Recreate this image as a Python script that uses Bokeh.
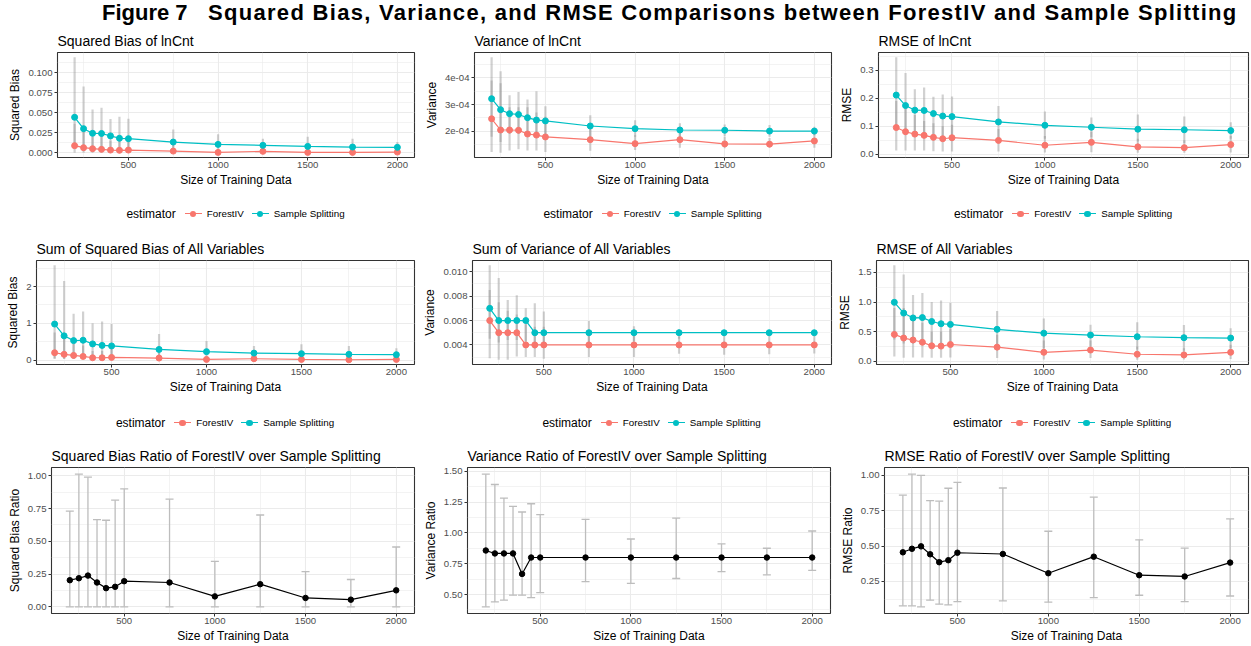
from bokeh.plotting import figure
from bokeh.models import (ColumnDataSource, Range1d, FixedTicker, Whisker, TeeHead, Div,
                          PrintfTickFormatter, CustomJSTickFormatter)
from bokeh.layouts import column, row
from bokeh.embed import file_html
from bokeh.resources import INLINE

# ---------------- data ----------------
n_train = [200, 250, 300, 350, 400, 450, 500, 750, 1000, 1250, 1500, 1750, 2000]
x_ticks = [500, 1000, 1500, 2000]
x_minor = [250, 750, 1250, 1750]
series_names = ["ForestIV", "Sample Splitting"]
legend_title = "estimator"

# Panel 1: Squared Bias of lnCnt
bias_ln_fiv = [0.0088, 0.0063, 0.0050, 0.0042, 0.0033, 0.0030, 0.0033, 0.0020, 0.0004, 0.0017, 0.0004, 0.0004, 0.0008]
bias_ln_fiv_lo = [0.0, 0.0, 0.0, 0.0, 0.0, 0.0, 0.0, 0.0, 0.0, 0.0, 0.0, 0.0, 0.0]
bias_ln_fiv_hi = [0.036, 0.030, 0.020, 0.022, 0.015, 0.016, 0.016, 0.011, 0.004, 0.009, 0.004, 0.003, 0.005]
bias_ln_ss = [0.0442, 0.0300, 0.0242, 0.0240, 0.0210, 0.0180, 0.0175, 0.0133, 0.0104, 0.0092, 0.0079, 0.0071, 0.0067]
bias_ln_ss_lo = [0.006, 0.004, 0.004, 0.004, 0.004, 0.003, 0.003, 0.003, 0.002, 0.002, 0.002, 0.002, 0.002]
bias_ln_ss_hi = [0.119, 0.0825, 0.054, 0.056, 0.042, 0.045, 0.0425, 0.029, 0.023, 0.0175, 0.020, 0.0175, 0.0133]
bias_ln_ticks = [0.0, 0.025, 0.05, 0.075, 0.1]

# Panel 2: Variance of lnCnt
var_ln_fiv = [2.47e-4, 2.05e-4, 2.05e-4, 2.04e-4, 1.90e-4, 1.86e-4, 1.79e-4, 1.69e-4, 1.54e-4, 1.69e-4, 1.53e-4, 1.52e-4, 1.64e-4]
var_ln_fiv_lo = [1.23e-4, 1.20e-4, 1.28e-4, 1.33e-4, 1.28e-4, 1.28e-4, 1.23e-4, 1.27e-4, 1.30e-4, 1.39e-4, 1.37e-4, 1.40e-4, 1.39e-4]
var_ln_fiv_hi = [3.9e-4, 3.8e-4, 2.9e-4, 2.9e-4, 2.9e-4, 2.7e-4, 2.55e-4, 2.2e-4, 1.85e-4, 2.1e-4, 1.8e-4, 1.75e-4, 1.95e-4]
var_ln_ss = [3.22e-4, 2.81e-4, 2.66e-4, 2.63e-4, 2.51e-4, 2.42e-4, 2.39e-4, 2.20e-4, 2.10e-4, 2.05e-4, 2.04e-4, 2.01e-4, 2.01e-4]
var_ln_ss_lo = [1.8e-4, 1.6e-4, 1.9e-4, 1.9e-4, 1.9e-4, 1.8e-4, 1.85e-4, 1.8e-4, 1.8e-4, 1.8e-4, 1.82e-4, 1.8e-4, 1.85e-4]
var_ln_ss_hi = [4.77e-4, 4.25e-4, 3.35e-4, 3.47e-4, 3.19e-4, 3.50e-4, 2.94e-4, 2.60e-4, 2.41e-4, 2.30e-4, 2.26e-4, 2.24e-4, 2.17e-4]
var_ln_ticks = [2e-4, 3e-4, 4e-4]

# Panel 3: RMSE of lnCnt
rmse_ln_fiv = [0.095, 0.080, 0.0715, 0.067, 0.060, 0.055, 0.0586, 0.049, 0.0317, 0.042, 0.026, 0.023, 0.034]
rmse_ln_fiv_lo = [0.013, 0.013, 0.013, 0.013, 0.010, 0.009, 0.009, 0.009, 0.006, 0.007, 0.005, 0.005, 0.006]
rmse_ln_fiv_hi = [0.19, 0.17, 0.14, 0.118, 0.11, 0.10, 0.105, 0.09, 0.065, 0.08, 0.055, 0.05, 0.065]
rmse_ln_ss = [0.211, 0.1735, 0.157, 0.156, 0.145, 0.136, 0.134, 0.115, 0.103, 0.096, 0.089, 0.087, 0.084]
rmse_ln_ss_lo = [0.09, 0.07, 0.07, 0.07, 0.07, 0.06, 0.06, 0.06, 0.055, 0.06, 0.045, 0.04, 0.055]
rmse_ln_ss_hi = [0.346, 0.290, 0.232, 0.238, 0.205, 0.213, 0.206, 0.172, 0.152, 0.131, 0.142, 0.134, 0.114]
rmse_ln_ticks = [0.0, 0.1, 0.2, 0.3]

# Panel 4: Sum of Squared Bias of All Variables
bias_all_fiv = [0.20, 0.156, 0.128, 0.10, 0.064, 0.064, 0.073, 0.055, 0.018, 0.037, 0.018, 0.009, 0.018]
bias_all_fiv_lo = [0.03, 0.03, 0.03, 0.03, 0.03, 0.03, 0.03, 0.03, 0.03, 0.03, 0.03, 0.03, 0.03]
bias_all_fiv_hi = [0.75, 0.60, 0.45, 0.40, 0.25, 0.25, 0.30, 0.20, 0.08, 0.15, 0.08, 0.05, 0.08]
bias_all_ss = [0.98, 0.66, 0.53, 0.54, 0.44, 0.40, 0.385, 0.29, 0.23, 0.19, 0.175, 0.156, 0.147]
bias_all_ss_lo = [0.05, 0.04, 0.04, 0.04, 0.04, 0.04, 0.04, 0.04, 0.04, 0.04, 0.04, 0.04, 0.04]
bias_all_ss_hi = [2.58, 2.15, 1.26, 1.32, 1.00, 1.05, 0.98, 0.71, 0.52, 0.385, 0.43, 0.385, 0.32]
bias_all_ticks = [0, 1, 2]

# Panel 5: Sum of Variance of All Variables
var_all_fiv = [0.006, 0.005, 0.005, 0.005, 0.004, 0.004, 0.004, 0.004, 0.004, 0.004, 0.004, 0.004, 0.004]
var_all_fiv_lo = [0.00291, 0.00278, 0.00278, 0.00305, 0.00300, 0.00300, 0.00286, 0.00300, 0.00300, 0.00327, 0.00319, 0.00324, 0.00330]
var_all_fiv_hi = [0.0085, 0.0075, 0.0068, 0.0065, 0.0057, 0.0055, 0.0055, 0.0050, 0.0048, 0.0047, 0.0046, 0.0046, 0.0046]
var_all_ss = [0.007, 0.006, 0.006, 0.006, 0.006, 0.005, 0.005, 0.005, 0.005, 0.005, 0.005, 0.005, 0.005]
var_all_ss_lo = [0.0045, 0.0042, 0.0044, 0.0044, 0.0043, 0.0037, 0.0038, 0.0041, 0.0043, 0.0045, 0.0046, 0.0046, 0.0046]
var_all_ss_hi = [0.01054, 0.0095, 0.00768, 0.00807, 0.00701, 0.00742, 0.00674, 0.00597, 0.00554, 0.00529, 0.00521, 0.00516, 0.00508]
var_all_ticks = [0.004, 0.006, 0.008, 0.010]

# Panel 6: RMSE of All Variables
rmse_all_fiv = [0.454, 0.393, 0.360, 0.322, 0.262, 0.257, 0.284, 0.240, 0.153, 0.191, 0.120, 0.109, 0.153]
rmse_all_fiv_lo = [0.082, 0.060, 0.066, 0.066, 0.060, 0.060, 0.066, 0.055, 0.033, 0.055, 0.027, 0.033, 0.038]
rmse_all_fiv_hi = [0.90, 0.90, 0.70, 0.65, 0.50, 0.50, 0.55, 0.45, 0.35, 0.35, 0.25, 0.22, 0.28]
rmse_all_ss = [0.995, 0.814, 0.732, 0.738, 0.672, 0.634, 0.623, 0.540, 0.475, 0.443, 0.415, 0.399, 0.393]
rmse_all_ss_lo = [0.37, 0.30, 0.30, 0.30, 0.30, 0.25, 0.25, 0.25, 0.22, 0.25, 0.20, 0.18, 0.22]
rmse_all_ss_hi = [1.62, 1.465, 1.12, 1.153, 1.00, 1.027, 0.989, 0.847, 0.721, 0.617, 0.661, 0.612, 0.557]
rmse_all_ticks = [0.0, 0.5, 1.0, 1.5]

# Panel 7: Squared Bias Ratio
bias_ratio = [0.2035, 0.2186, 0.2387, 0.186, 0.143, 0.153, 0.196, 0.186, 0.080, 0.173, 0.068, 0.055, 0.126]
bias_ratio_lo = [0.0, 0.0, 0.0, 0.0, 0.0, 0.0, 0.0, 0.0, 0.0, 0.0, 0.0, 0.0, 0.0]
bias_ratio_hi = [0.731, 1.013, 0.990, 0.666, 0.661, 0.814, 0.900, 0.822, 0.347, 0.701, 0.269, 0.209, 0.457]
bias_ratio_ticks = [0.0, 0.25, 0.5, 0.75, 1.0]

# Panel 8: Variance Ratio
var_ratio = [0.857, 0.833, 0.833, 0.833, 0.667, 0.8, 0.8, 0.8, 0.8, 0.8, 0.8, 0.8, 0.8]
var_ratio_lo = [0.400, 0.440, 0.455, 0.495, 0.495, 0.475, 0.515, 0.605, 0.590, 0.630, 0.685, 0.660, 0.695]
var_ratio_hi = [1.476, 1.392, 1.282, 1.215, 1.169, 1.236, 1.147, 1.110, 0.950, 1.120, 0.910, 0.875, 1.015]
var_ratio_ticks = [0.5, 0.75, 1.0, 1.25, 1.5]

# Panel 9: RMSE Ratio
rmse_ratio = [0.456, 0.481, 0.498, 0.442, 0.386, 0.400, 0.453, 0.444, 0.308, 0.425, 0.294, 0.285, 0.383]
rmse_ratio_lo = [0.077, 0.077, 0.070, 0.117, 0.089, 0.084, 0.107, 0.112, 0.103, 0.135, 0.152, 0.107, 0.147]
rmse_ratio_hi = [0.860, 1.009, 1.000, 0.822, 0.818, 0.909, 0.951, 0.911, 0.605, 0.846, 0.544, 0.485, 0.692]
rmse_ratio_ticks = [0.25, 0.5, 0.75, 1.0]

# ---------------- style / layout ----------------
FONT = "Liberation Sans"
RED = "#F8766D"
CYAN = "#00BFC4"
GRID = "#EBEBEB"
COLW = [417, 418, 415]
# per panel (row, col) borders
BL = [[57, 57, 43], [36, 55, 41], [51, 50, 49]]
BR = [[3, 4, 2], [3, 4, 2], [3, 5, 2]]
FIGH = [165, 165, 205]
BT = [27, 28, 27]
BB = [33, 33, 30]
LEGH = [42, 43, 0]
LEGPAD = [15, 17, 0]


def minor_of(ticks):
    step = ticks[1] - ticks[0]
    return [t - step / 2 for t in ticks] + [ticks[-1] + step / 2]


def padded(lo_list, hi_list, extra=0.0):
    lo = min(lo_list) - extra
    hi = max(hi_list) + extra
    d = (hi - lo) * 0.05
    return Range1d(lo - d, hi + d)


def base_fig(ci, ri, title, ylabel, x_range, y_range, yticks, yfmt):
    p = figure(width=COLW[ci], height=FIGH[ri], x_range=x_range, y_range=y_range,
               output_backend="svg", toolbar_location=None, title=title,
               min_border_left=BL[ri][ci], min_border_right=BR[ri][ci],
               min_border_top=BT[ri], min_border_bottom=BB[ri])
    p.title.text_font = FONT
    p.title.text_font_size = "14px"
    p.title.text_font_style = "normal"
    p.title.text_color = "#000000"
    p.title.standoff = 7
    p.outline_line_color = "#333333"
    p.outline_line_width = 1.1
    p.xaxis.ticker = FixedTicker(ticks=x_ticks, minor_ticks=x_minor)
    p.yaxis.ticker = FixedTicker(ticks=yticks, minor_ticks=minor_of(yticks))
    p.yaxis.formatter = yfmt
    p.xaxis.formatter = PrintfTickFormatter(format="%d")
    p.xaxis.axis_label = "Size of Training Data"
    p.yaxis.axis_label = ylabel
    for ax in (p.xaxis, p.yaxis):
        ax.axis_line_color = None
        ax.major_tick_line_color = "#333333"
        ax.major_tick_out = 3
        ax.major_tick_in = 0
        ax.minor_tick_out = 0
        ax.minor_tick_in = 0
        ax.major_label_text_font = FONT
        ax.major_label_text_font_size = "9.6px"
        ax.major_label_text_color = "#4D4D4D"
        ax.major_label_standoff = 2
        ax.axis_label_text_font = FONT
        ax.axis_label_text_font_size = "12px"
        ax.axis_label_text_font_style = "normal"
        ax.axis_label_text_color = "#000000"
        ax.axis_label_standoff = 3
    p.xaxis.major_label_standoff = 1
    p.xaxis.axis_label_standoff = 2
    for g in (p.xgrid, p.ygrid):
        g.grid_line_color = GRID
        g.grid_line_width = 1.1
        g.minor_grid_line_color = GRID
        g.minor_grid_line_width = 0.6
    p.xgrid.ticker = p.xaxis.ticker
    p.ygrid.ticker = p.yaxis.ticker
    return p


def legend_strip(ci, ri):
    frame_w = COLW[ci] - BL[ri][ci] - BR[ri][ci]

    def key(c):
        return ('<span style="display:inline-block;position:relative;width:17px;height:12px;'
                'vertical-align:middle;">'
                '<span style="position:absolute;left:0;top:5px;width:17px;height:1.5px;background:%s;"></span>'
                '<span style="position:absolute;left:5px;top:3px;width:6.5px;height:6.5px;'
                'border-radius:50%%;background:%s;"></span></span>' % (c, c))

    html = ('<div style="margin-left:%dpx;width:%dpx;padding-top:%dpx;text-align:center;'
            'font-family:\'Liberation Sans\';white-space:nowrap;line-height:16px;color:#000;">'
            '<span style="font-size:12px;vertical-align:middle;margin-right:9px;">%s</span>'
            '%s<span style="font-size:9.8px;vertical-align:middle;margin:0 8px 0 5px;">%s</span>'
            '%s<span style="font-size:9.8px;vertical-align:middle;margin-left:5px;">%s</span></div>'
            % (BL[ri][ci], frame_w, LEGPAD[ri], legend_title, key(RED), series_names[0],
               key(CYAN), series_names[1]))
    return Div(text=html, width=COLW[ci], height=LEGH[ri], margin=(0, 0, 0, 0))


def compare_panel(ci, ri, title, ylabel, fiv, fiv_lo, fiv_hi, ss, ss_lo, ss_hi, yticks, yfmt):
    xr = padded(n_train, n_train, extra=5)
    yr = padded(fiv_lo + ss_lo + fiv + ss, fiv_hi + ss_hi + fiv + ss)
    p = base_fig(ci, ri, title, ylabel, xr, yr, yticks, yfmt)
    s_f = ColumnDataSource(dict(x=n_train, y=fiv, lo=fiv_lo, hi=fiv_hi))
    s_s = ColumnDataSource(dict(x=n_train, y=ss, lo=ss_lo, hi=ss_hi))
    for s in (s_f, s_s):
        p.segment(x0="x", y0="lo", x1="x", y1="hi", source=s,
                  line_color="#8C8C8C", line_alpha=0.4, line_width=2.2)
    p.line("x", "y", source=s_f, line_color=RED, line_width=1.2)
    p.scatter("x", "y", source=s_f, size=6, fill_color=RED, line_color=RED)
    p.line("x", "y", source=s_s, line_color=CYAN, line_width=1.2)
    p.scatter("x", "y", source=s_s, size=6, fill_color=CYAN, line_color=CYAN)
    return column(p, legend_strip(ci, ri), spacing=0)


def ratio_panel(ci, ri, title, ylabel, vals, lo, hi, yticks, yfmt):
    xr = padded(n_train, n_train, extra=10)
    yr = padded(lo + vals, hi + vals)
    p = base_fig(ci, ri, title, ylabel, xr, yr, yticks, yfmt)
    src = ColumnDataSource(dict(x=n_train, y=vals, lo=lo, hi=hi))
    w = Whisker(base="x", lower="lo", upper="hi", source=src,
                line_color="#BDBDBD", line_width=1.3,
                upper_head=TeeHead(size=8, line_color="#BDBDBD", line_width=1.3),
                lower_head=TeeHead(size=8, line_color="#BDBDBD", line_width=1.3))
    p.add_layout(w)
    p.line("x", "y", source=src, line_color="black", line_width=1.2)
    p.scatter("x", "y", source=src, size=5.5, fill_color="black", line_color="black")
    return p


f3 = PrintfTickFormatter(format="%.3f")
f1 = PrintfTickFormatter(format="%.1f")
f0 = PrintfTickFormatter(format="%.0f")
f2 = PrintfTickFormatter(format="%.2f")
fsci = CustomJSTickFormatter(code="return (tick*1e4).toFixed(0) + 'e-04';")

p1 = compare_panel(0, 0, "Squared Bias of lnCnt", "Squared Bias", bias_ln_fiv, bias_ln_fiv_lo, bias_ln_fiv_hi,
                   bias_ln_ss, bias_ln_ss_lo, bias_ln_ss_hi, bias_ln_ticks, f3)
p2 = compare_panel(1, 0, "Variance of lnCnt", "Variance", var_ln_fiv, var_ln_fiv_lo, var_ln_fiv_hi,
                   var_ln_ss, var_ln_ss_lo, var_ln_ss_hi, var_ln_ticks, fsci)
p3 = compare_panel(2, 0, "RMSE of lnCnt", "RMSE", rmse_ln_fiv, rmse_ln_fiv_lo, rmse_ln_fiv_hi,
                   rmse_ln_ss, rmse_ln_ss_lo, rmse_ln_ss_hi, rmse_ln_ticks, f1)
p4 = compare_panel(0, 1, "Sum of Squared Bias of All Variables", "Squared Bias", bias_all_fiv, bias_all_fiv_lo,
                   bias_all_fiv_hi, bias_all_ss, bias_all_ss_lo, bias_all_ss_hi, bias_all_ticks, f0)
p5 = compare_panel(1, 1, "Sum of Variance of All Variables", "Variance", var_all_fiv, var_all_fiv_lo,
                   var_all_fiv_hi, var_all_ss, var_all_ss_lo, var_all_ss_hi, var_all_ticks, f3)
p6 = compare_panel(2, 1, "RMSE of All Variables", "RMSE", rmse_all_fiv, rmse_all_fiv_lo, rmse_all_fiv_hi,
                   rmse_all_ss, rmse_all_ss_lo, rmse_all_ss_hi, rmse_all_ticks, f1)
p7 = ratio_panel(0, 2, "Squared Bias Ratio of ForestIV over Sample Splitting", "Squared Bias Ratio",
                 bias_ratio, bias_ratio_lo, bias_ratio_hi, bias_ratio_ticks, f2)
p8 = ratio_panel(1, 2, "Variance Ratio of ForestIV over Sample Splitting", "Variance Ratio",
                 var_ratio, var_ratio_lo, var_ratio_hi, var_ratio_ticks, f2)
p9 = ratio_panel(2, 2, "RMSE Ratio of ForestIV over Sample Splitting", "RMSE Ratio",
                 rmse_ratio, rmse_ratio_lo, rmse_ratio_hi, rmse_ratio_ticks, f2)

title_html = ('<div style="font-family:\'Liberation Sans\';font-weight:bold;font-size:22px;'
              'line-height:25px;white-space:nowrap;padding-left:102px;color:#000;">'
              '<span style="display:inline-block;width:106px">Figure 7</span>'
              '<span style="letter-spacing:1.3px">Squared Bias, Variance, and RMSE Comparisons '
              'between ForestIV and Sample Splitting</span></div>')
title_div = Div(text=title_html, width=1250, height=25, margin=(0, 0, 0, 0))

layout = column(title_div,
                row(p1, p2, p3, spacing=0),
                row(p4, p5, p6, spacing=0),
                row(p7, p8, p9, spacing=0), spacing=0)

open("out.html", "w").write(file_html(layout, INLINE))
